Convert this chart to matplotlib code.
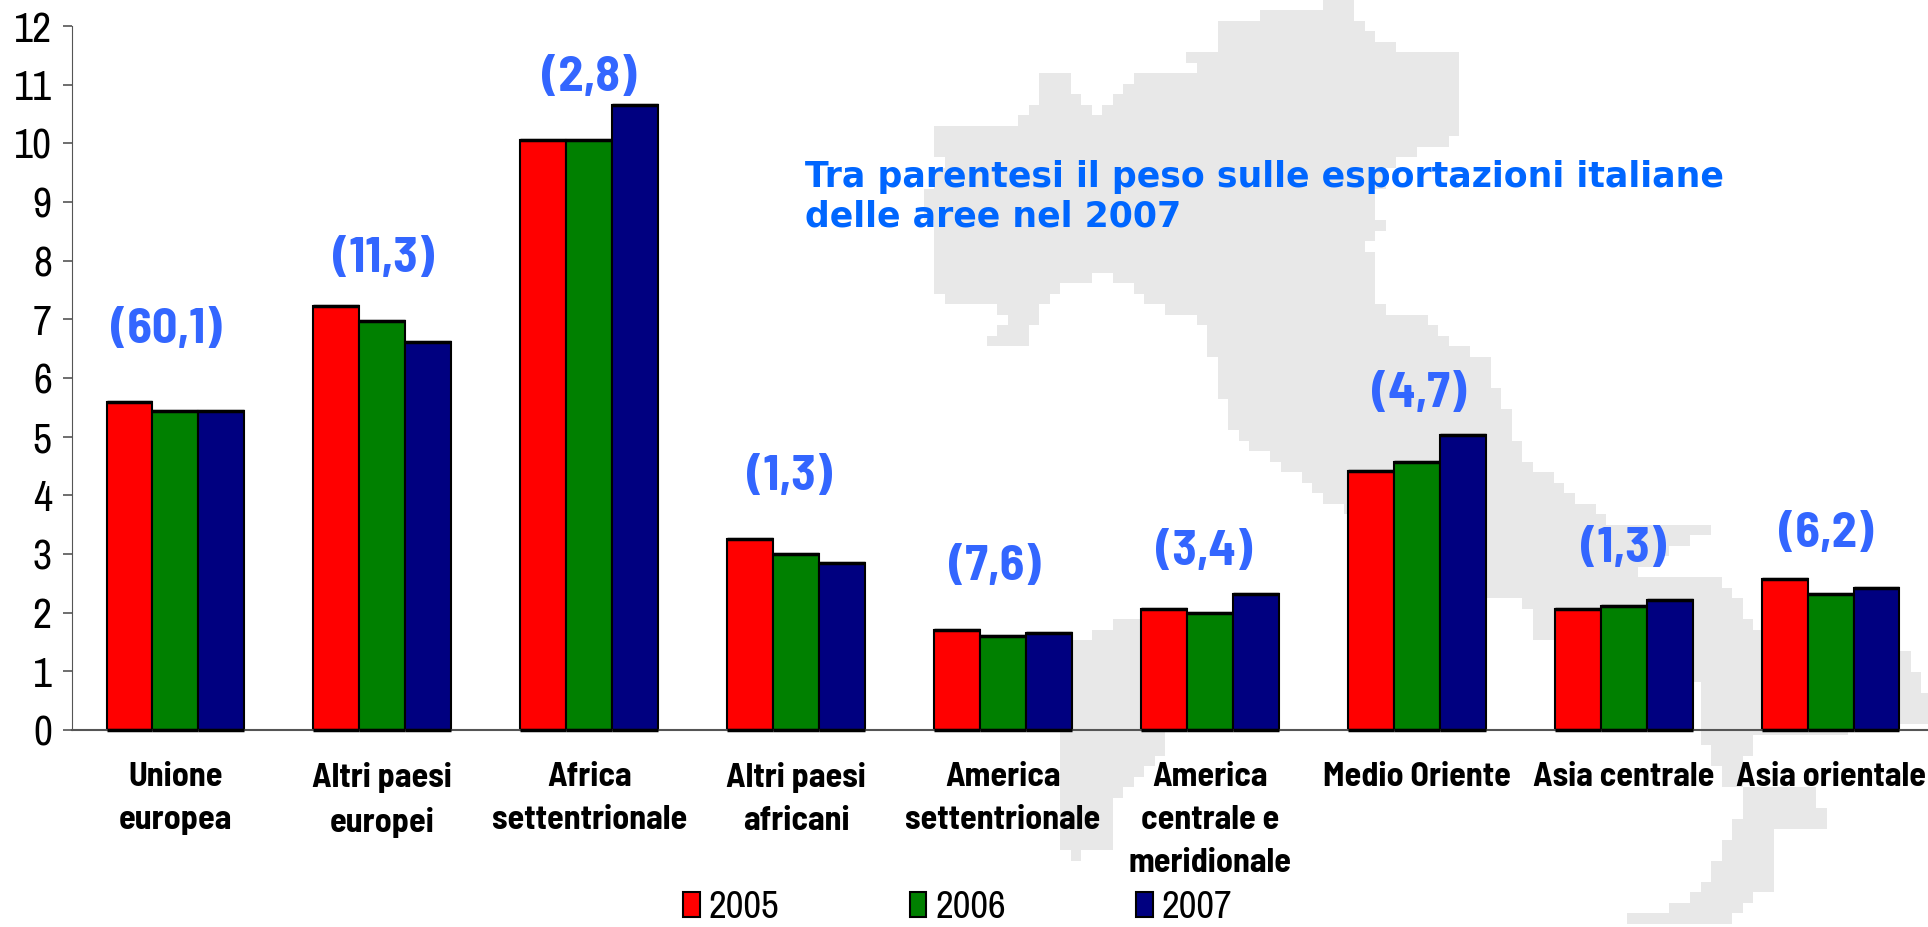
import matplotlib
matplotlib.use('Agg')
import matplotlib.pyplot as plt
from matplotlib.path import Path
import numpy as np

categories = ['Unione\neuropea', 'Altri paesi\neuropei', 'Africa\nsettentrionale',
              'Altri paesi\nafricani', 'America\nsettentrionale',
              'America\ncentrale e\nmeridionale', 'Medio Oriente', 'Asia centrale',
              'Asia orientale']
years = ['2005', '2006', '2007']
v2005 = [5.59, 7.23, 10.05, 3.25, 1.70, 2.06, 4.42, 2.06, 2.57]
v2006 = [5.44, 6.97, 10.05, 3.00, 1.60, 2.00, 4.57, 2.11, 2.32]
v2007 = [5.44, 6.61, 10.66, 2.85, 1.65, 2.32, 5.03, 2.22, 2.42]
shares = ['(60,1)', '(11,3)', '(2,8)', '(1,3)', '(7,6)', '(3,4)', '(4,7)', '(1,3)', '(6,2)']
# where the share labels sit
share_dx = [-0.044, 0.008, 0, -0.03, -0.04, -0.03, 0.01, 0, -0.02]
share_y = [6.82, 8.03, 11.12, 4.31, 2.78, 3.03, 5.73, 3.08, 3.34]

# background map, in picture pixels
italy = [(1339, 2), (1274, 13), (1221, 23), (1221, 50), (1189, 55), (1195, 72), (1136, 72),
         (1113, 100), (1097, 120), (1064, 72), (1038, 80), (1031, 120), (933, 130), (933, 148),
         (946, 160), (920, 200), (939, 233), (933, 277), (943, 297), (962, 307), (992, 308),
         (1005, 318), (985, 347), (1025, 343), (1041, 310), (1064, 280), (1110, 277), (1162, 307),
         (1208, 327), (1215, 373), (1234, 433), (1293, 473), (1326, 497), (1400, 560), (1487, 603),
         (1526, 603), (1539, 643), (1640, 670), (1696, 680), (1700, 733), (1726, 787), (1818, 790),
         (1825, 830), (1779, 830), (1779, 887), (1752, 893), (1726, 927), (1621, 927), (1621, 920),
         (1680, 905), (1700, 895), (1745, 800), (1745, 760), (1759, 735), (1928, 725), (1928, 700),
         (1903, 650), (1850, 640), (1759, 627), (1720, 583), (1634, 573), (1687, 543), (1713, 527),
         (1621, 527), (1589, 507), (1556, 477), (1530, 467), (1513, 430), (1503, 400), (1484, 358),
         (1451, 347), (1425, 320), (1389, 317), (1375, 300), (1369, 240), (1385, 227), (1372, 200),
         (1398, 160), (1421, 148), (1461, 138), (1457, 52), (1398, 52), (1359, 23), (1352, 3)]
sardinia = [(1074, 647), (1116, 623), (1160, 615), (1164, 753), (1110, 800), (1110, 850),
            (1077, 857), (1060, 847), (1057, 737)]

W, H = 1928, 927
bold_fam = ['Barlow Semi Condensed', 'Liberation Sans', 'DejaVu Sans']
thin_fam = ['Archivo Narrow', 'Liberation Sans', 'DejaVu Sans']

fig = plt.figure(figsize=(W / 100, H / 100), dpi=100)

# the map is a coarse picture in the original, so draw it as big square pixels
bg = fig.add_axes([0, 0, 1, 1], zorder=-1)
block = 10.5
gx, gy = np.meshgrid(np.arange(0, W, block) + block / 2, np.arange(0, H, block) + block / 2)
grid = np.column_stack([gx.ravel(), gy.ravel()])
mask = Path(italy).contains_points(grid) | Path(sardinia).contains_points(grid)
mask = mask.reshape(gx.shape)
bg.imshow(np.where(mask, 0.91, 1.0), cmap='gray', vmin=0, vmax=1, interpolation='nearest',
          extent=(0, gx.shape[1] * block, gx.shape[0] * block, 0), aspect='auto')
bg.set_xlim(0, W)
bg.set_ylim(H, 0)
bg.axis('off')

ax = fig.add_axes([72 / W, 1 - 730 / H, 1862 / W, 704 / H])
ax.patch.set_alpha(0)

w = 0.222
colors = ['#ff0000', '#008000', '#000080']
series = [v2005, v2006, v2007]
handles = []
for k in range(3):
    xs = [i + (k - 1) * w for i in range(len(categories))]
    b = ax.bar(xs, series[k], w, color=colors[k], edgecolor='black', linewidth=1.5, clip_on=False)
    # the bars have a heavier top and bottom line
    ax.hlines(series[k], [x - w / 2 for x in xs], [x + w / 2 for x in xs], color='black', linewidth=2.5)
    ax.hlines([0] * 9, [x - w / 2 for x in xs], [x + w / 2 for x in xs], color='black',
              linewidth=2.5, clip_on=False, zorder=4)
    handles.append(b)

for i in range(len(shares)):
    ax.text(i + share_dx[i], share_y[i], shares[i], color='#3366ff', fontsize=36, fontweight='bold',
            ha='center', va='center', family=bold_fam)

ax.text(805 / W, 1 - 197 / H, 'Tra parentesi il peso sulle esportazioni italiane\ndelle aree nel 2007',
        transform=fig.transFigure, color='#0066ff', fontsize=25, fontweight='bold',
        family='DejaVu Sans', ha='left', va='center', linespacing=1.2)

ax.set_xlim(-0.5, 8.5)
ax.set_ylim(0, 12)
ax.set_yticks(range(13))
ax.tick_params(axis='y', labelsize=30, length=6.5, width=1.2, color='#555555', pad=8)
ax.tick_params(axis='x', length=0, pad=23)
ax.set_xticks(range(9))
ax.set_xticklabels(categories, fontsize=24.5, fontweight='bold', family=bold_fam, linespacing=1.55)
for lab in ax.get_yticklabels():
    lab.set_family(thin_fam)
ax.spines['top'].set_visible(False)
ax.spines['right'].set_visible(False)
ax.spines['left'].set_color('#555555')
ax.spines['bottom'].set_color('#555555')
ax.spines['bottom'].set_linewidth(1.5)

fig.legend(handles, years, ncol=3, frameon=False, loc='lower left', bbox_to_anchor=(683 / W, 0.002),
           borderaxespad=0, borderpad=0, prop={'family': thin_fam, 'size': 28}, handlelength=0.43,
           handleheight=0.62, handletextpad=0.23, columnspacing=3.35)

plt.savefig('out.png')
